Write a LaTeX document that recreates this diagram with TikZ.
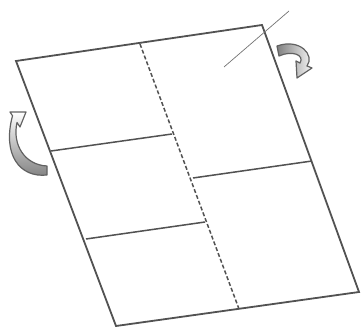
\documentclass[tikz,border=0pt]{standalone}
\begin{document}
\begin{tikzpicture}[x=1pt,y=-1pt,
  edge/.style={draw=black!68,line width=1.8pt,line join=miter},
  fold/.style={draw=black!68,line width=1.5pt,dash pattern=on 4pt off 2.2pt},
  thin/.style={draw=black!55,line width=0.7pt},
  turnarrow/.style={draw=black!62,line width=1.2pt,line join=round}]
\useasboundingbox (0,0) rectangle (361,328);
% corners
\coordinate (TL) at (16,61);
\coordinate (TR) at (262,25);
\coordinate (BR) at (359,292);
\coordinate (BL) at (116,326);
% fold line ends
\coordinate (DT) at (140,44);
\coordinate (DB) at (239,309);
% crease lines
\coordinate (L1a) at (51,151);
\coordinate (L1b) at (172,134);
\coordinate (L2a) at (86,239);
\coordinate (L2b) at (205,222);
\coordinate (R1a) at (193,178);
\coordinate (R1b) at (312,161);
% pointer line
\coordinate (Pa) at (224,67);
\coordinate (Pb) at (289,11);

\draw[edge] (TL) -- (TR) -- (BR) -- (BL) -- cycle;
\draw[fold] (DT) -- (DB);
\draw[edge,line width=1.5pt] (L1a) -- (L1b);
\draw[edge,line width=1.5pt] (L2a) -- (L2b);
\draw[edge,line width=1.5pt] (R1a) -- (R1b);
\draw[thin] (Pa) -- (Pb);

% right turn arrow
\draw[turnarrow,left color=black!50,right color=white]
  (277,46) .. controls (300,38) and (315,55) .. (307,66)
  -- (312,68) -- (297,78) -- (296,61) -- (300,63)
  .. controls (305,55) and (292,50) .. (279,56) -- cycle;
% left turn arrow
\draw[turnarrow,bottom color=black!50,top color=white]
  (47,175) .. controls (20,178) and (2,155) .. (12.5,115.8)
  -- (10,112) -- (26,112) -- (20,127) -- (17,122.5)
  .. controls (12,145) and (25,165) .. (47,166) -- cycle;
\end{tikzpicture}
\end{document}
